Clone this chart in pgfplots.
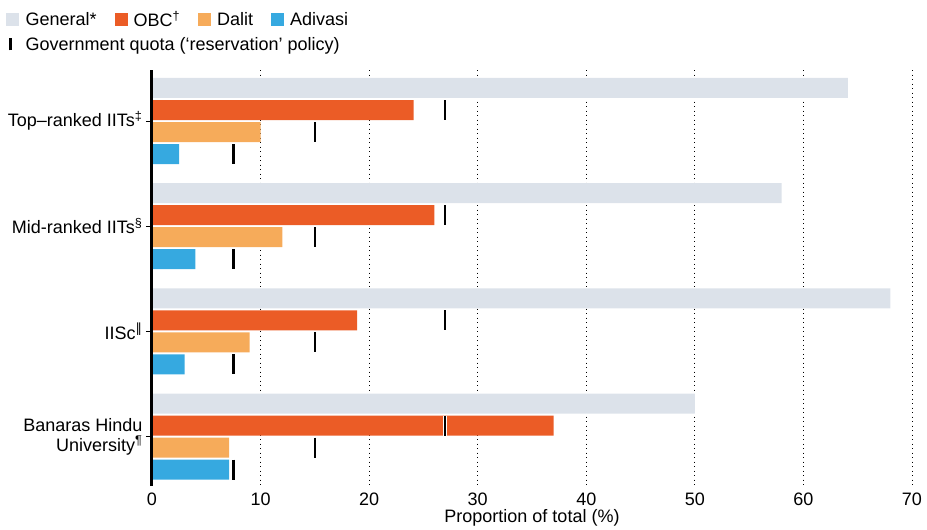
\documentclass[border=0pt]{standalone}
\usepackage{pgfplots}
\pgfplotsset{compat=1.18}
\usepackage{fontspec}
\setmainfont{Liberation Sans}
\newfontfamily\djv{DejaVu Sans}

\definecolor{cGen}{RGB}{220,226,234}
\definecolor{cOBC}{RGB}{235,92,38}
\definecolor{cDal}{RGB}{246,171,90}
\definecolor{cAdi}{RGB}{54,169,224}

\newcommand{\fs}{\fontsize{18}{20}\selectfont}

\begin{document}
\begin{tikzpicture}
\begin{axis}[
  scale only axis,
  width=760pt, height=416pt,
  xmin=0, xmax=70,
  ymin=-0.485, ymax=3.47,
  y dir=reverse,
  axis x line*=bottom, axis y line*=left,
  x axis line style={draw=none},
  y axis line style={draw=none},
  xtick={0,10,...,70},
  ytick={0,1,2,3},
  yticklabels={Top–ranked IITs\textsuperscript{‡}, Mid-ranked IITs\textsuperscript{§}, IISc\textsuperscript{\djv ‖}, {Banaras Hindu\\University\textsuperscript{¶}}},
  xtick style={draw=none},
  ytick style={black, line width=0.8pt},
  tick align=outside,
  major tick length=6pt,
  xmajorgrids,
  grid style={black, line width=0.9pt, dash pattern=on 1pt off 3.5pt},
  ticklabel style={font=\fs},
  yticklabel style={align=right},
  xticklabel style={yshift=3pt},
  /pgf/number format/assume math mode=true,
  xlabel={Proportion of total (\%)},
  xlabel style={font=\fs, yshift=3pt},
  legend columns=4,
  legend cell align=left,
  legend style={at={(0,1)}, anchor=north west, xshift=-146pt, yshift=61pt,
    draw=none, fill=none, font=\fs, inner sep=0pt, row sep=5pt,
    /tikz/every even column/.append style={column sep=16pt}},
  after end axis/.code={\draw[black, line width=3pt] (rel axis cs:0,0) -- (rel axis cs:0,1);},
]
% General
\addplot[xbar, bar width=0.19, bar shift=-0.314, draw=none, fill=cGen,
  legend image code/.code={\fill[cGen] (0pt,-6.5pt) rectangle (13pt,6.5pt); \path (17pt,0pt);}]
  coordinates {(64.1,0) (58,1) (68,2) (50,3)};
\addlegendentry{General*}
% OBC
\addplot[xbar, bar width=0.19, bar shift=-0.1045, draw=none, fill=cOBC,
  legend image code/.code={\fill[cOBC] (0pt,-6.5pt) rectangle (13pt,6.5pt); \path (17pt,0pt);}]
  coordinates {(24.1,0) (26,1) (18.9,2) (37,3)};
\addlegendentry{OBC\textsuperscript{†}}
% Dalit
\addplot[xbar, bar width=0.19, bar shift=0.1045, draw=none, fill=cDal,
  legend image code/.code={\fill[cDal] (0pt,-6.5pt) rectangle (13pt,6.5pt); \path (17pt,0pt);}]
  coordinates {(10,0) (12,1) (9,2) (7.1,3)};
\addlegendentry{Dalit}
% Adivasi
\addplot[xbar, bar width=0.19, bar shift=0.314, draw=none, fill=cAdi,
  legend image code/.code={\fill[cAdi] (0pt,-6.5pt) rectangle (13pt,6.5pt); \path (17pt,0pt);}]
  coordinates {(2.5,0) (4,1) (3,2) (7.1,3)};
\addlegendentry{Adivasi}

% quota markers: white halo, then black
\addplot[only marks, mark=|, mark size=10pt, mark options={white, line width=4.6pt}, forget plot]
  coordinates {(27,-0.1045) (15,0.1045) (7.5,0.314)
               (27,0.8955) (15,1.1045) (7.5,1.314)
               (27,1.8955) (15,2.1045) (7.5,2.314)
               (27,2.8955) (15,3.1045) (7.5,3.314)};
\addplot[only marks, mark=|, mark size=10pt, mark options={black, line width=2.6pt},
  legend image code/.code={\draw[black, line width=2.8pt] (4pt,-6pt) -- (4pt,6pt); \path (0pt,0pt) (17pt,0pt);}]
  coordinates {(27,-0.1045) (15,0.1045) (7.5,0.314)
               (27,0.8955) (15,1.1045) (7.5,1.314)
               (27,1.8955) (15,2.1045) (7.5,2.314)
               (27,2.8955) (15,3.1045) (7.5,3.314)};
\addlegendentry{\makebox[0pt][l]{Government quota (‘reservation’ policy)}}
\end{axis}
\path ([xshift=-152pt,yshift=-43pt]current axis.south west) rectangle ([xshift=775pt,yshift=486pt]current axis.south west);
\end{tikzpicture}
\end{document}
